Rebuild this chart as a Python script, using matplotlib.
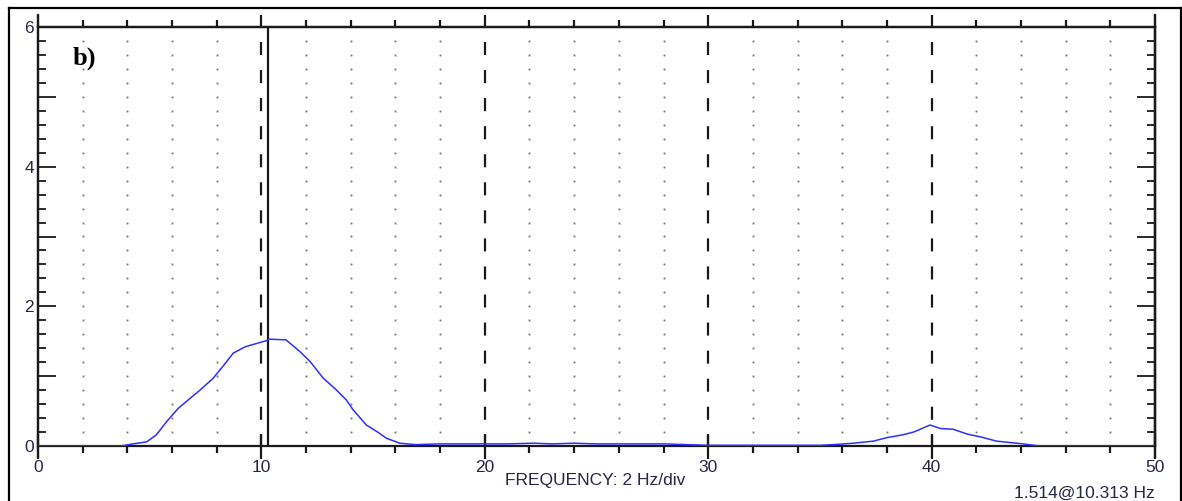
import numpy as np
import matplotlib
matplotlib.use("Agg")
import matplotlib.pyplot as plt
from matplotlib.lines import Line2D
from matplotlib.ticker import MultipleLocator, FuncFormatter

plt.rcParams['lines.scale_dashes'] = False

# ---- data ----
freq = [0.0, 1.0, 2.0, 3.0, 3.7, 4.25, 4.87, 5.3, 5.76, 6.28, 6.8, 7.25, 7.84, 8.3, 8.74, 9.27,
        9.8, 10.24, 10.37, 11.1, 11.73, 12.18, 12.77, 13.3, 13.8, 14.1, 14.7, 15.2, 15.6, 16.2,
        16.9, 18.0, 19.0, 20.0, 21.0, 22.2, 23.0, 24.0, 25.0, 26.0, 27.0, 28.0, 29.0, 30.0,
        31.0, 32.0, 33.0, 34.0, 35.0, 35.6, 36.5, 37.4, 38.0, 38.7, 39.2, 39.93, 40.4, 40.96,
        41.6, 42.2, 42.9, 44.1, 44.85, 46.0, 48.0, 50.0]
amp = [0.0, 0.0, 0.0, 0.0, 0.0, 0.03, 0.06, 0.16, 0.35, 0.54, 0.68, 0.80, 0.97, 1.15, 1.33, 1.42,
       1.47, 1.51, 1.53, 1.52, 1.35, 1.21, 0.97, 0.82, 0.66, 0.52, 0.30, 0.20, 0.11, 0.04,
       0.02, 0.03, 0.03, 0.03, 0.03, 0.04, 0.03, 0.04, 0.03, 0.03, 0.03, 0.03, 0.02, 0.01,
       0.01, 0.01, 0.01, 0.01, 0.01, 0.02, 0.04, 0.07, 0.12, 0.16, 0.20, 0.30, 0.25, 0.24,
       0.17, 0.13, 0.07, 0.03, 0.0, 0.0, 0.0, 0.0]
cursor_freq = 10.313
cursor_text = "1.514@10.313 Hz"
xlabel_text = "FREQUENCY: 2 Hz/div"
panel_label = "b)"
x_major = [0, 10, 20, 30, 40, 50]
y_labels = {0: "0", 2: "2", 4: "4", 6: "6"}

W, H = 1182, 501
fig = plt.figure(figsize=(W / 100, H / 100), dpi=100)
L, R, B, T = 38, 1155, 446, 27
ax = fig.add_axes([L / W, 1 - B / H, (R - L) / W, (B - T) / H])
ax.set_xlim(0, 50)
ax.set_ylim(0, 6)

txtc = '#262645'
font = 'Liberation Sans'
fs = 12.5

# dotted grid
gx = [v for v in np.arange(2, 50, 2) if v % 10 != 0]
gy = np.arange(0.2, 5.81, 0.2)
XX, YY = np.meshgrid(gx, gy)
ax.plot(XX.ravel(), YY.ravel(), linestyle='none', marker='s', markersize=1.3,
        color='#707070', markeredgewidth=0)

# dashed major lines
for xv in x_major[1:-1]:
    ax.plot([xv, xv], [6, 0], color='#1a1a1a', lw=1.6,
            linestyle=(9.4, (9.4, 10.8)), zorder=2)

# cursor line
ax.axvline(cursor_freq, color='#1a1a1a', lw=1.6, zorder=3)

# curve
ax.plot(freq, amp, color='#2f2fff', lw=1.1, zorder=4)

# spines
for s in ax.spines.values():
    s.set_linewidth(1.6)
    s.set_color('#1a1a1a')

# extend left/right axes lines above & below
for xv in (0, 50):
    ax.add_line(Line2D([xv, xv], [-0.16, 6.17], color='#1a1a1a', lw=1.6, clip_on=False))

# bottom x ticks
ax.xaxis.set_major_locator(MultipleLocator(10))
ax.xaxis.set_minor_locator(MultipleLocator(2))
ax.tick_params(axis='x', which='major', direction='inout', length=18, width=1.6,
               color='#1a1a1a', pad=1, labelsize=fs, labelcolor=txtc)
ax.tick_params(axis='x', which='minor', direction='out', length=5, width=1.6, color='#1a1a1a')
# left y ticks
ax.yaxis.set_major_locator(MultipleLocator(1))
ax.yaxis.set_minor_locator(MultipleLocator(0.2))
ax.yaxis.set_major_formatter(FuncFormatter(lambda v, p: y_labels.get(int(round(v)), "")))
ax.tick_params(axis='y', which='major', direction='in', length=13, width=1.3,
               color='#1a1a1a', pad=3, labelsize=fs, labelcolor=txtc)
ax.tick_params(axis='y', which='minor', direction='in', length=6, width=1.3, color='#1a1a1a')
for lab in ax.get_xticklabels() + ax.get_yticklabels():
    lab.set_fontfamily(font)

# top ticks
top = ax.secondary_xaxis('top')
top.xaxis.set_major_locator(MultipleLocator(10))
top.xaxis.set_minor_locator(MultipleLocator(2))
top.tick_params(which='major', direction='out', length=9, width=1.6, color='#1a1a1a', labeltop=False)
top.tick_params(which='minor', direction='out', length=5, width=1.6, color='#1a1a1a')
top.spines['top'].set_linewidth(1.6)

# right ticks
rt = ax.secondary_yaxis('right')
rt.yaxis.set_major_locator(MultipleLocator(1))
rt.yaxis.set_minor_locator(MultipleLocator(0.2))
rt.tick_params(which='major', direction='in', length=13, width=1.3, color='#1a1a1a', labelright=False)
rt.tick_params(which='minor', direction='in', length=6, width=1.3, color='#1a1a1a')
rt.spines['right'].set_linewidth(1.6)

# texts
fig.text(595 / W, 1 - 481 / H, xlabel_text, ha='center', va='center', fontsize=fs,
         color=txtc, family=font)
fig.text(1155 / W, 1 - 493 / H, cursor_text, ha='right', va='center', fontsize=fs,
         color=txtc, family=font)
fig.text(73 / W, 1 - 58 / H, panel_label, ha='left', va='center', fontsize=19,
         fontweight='bold', family='Liberation Serif', color='black')

# outer frame
fx0, fx1, fy1 = 8.5 / W, 1180.5 / W, 1 - 7.5 / H
for xs, ys in (([fx0, fx0], [-0.1, fy1]), ([fx0, fx1], [fy1, fy1]), ([fx1, fx1], [fy1, -0.1])):
    fig.add_artist(Line2D(xs, ys, transform=fig.transFigure, color='black', lw=1.6))

fig.savefig('out.png', dpi=100)
